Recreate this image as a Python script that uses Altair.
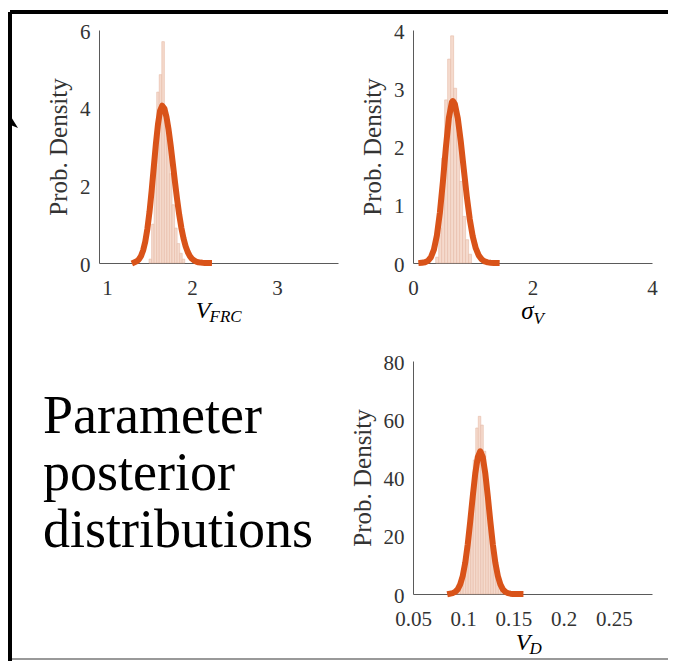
import altair as alt
import pandas as pd

# ---------------- data ----------------
# Panel 1: V_FRC
vfrc_edges = [1.495, 1.525, 1.555, 1.585, 1.615, 1.645, 1.675, 1.705, 1.735,
              1.765, 1.795, 1.825, 1.855, 1.885, 1.915]
vfrc_heights = [0.1, 1.0, 3.0, 4.4, 4.85, 5.7, 4.0, 3.2, 2.3, 1.5, 0.9, 0.5, 0.25, 0.1]
vfrc_cx = [1.325, 1.35, 1.375, 1.40, 1.425, 1.45, 1.475, 1.50, 1.525, 1.55, 1.575,
           1.60, 1.625, 1.65, 1.675, 1.70, 1.725, 1.75, 1.775, 1.80, 1.825, 1.85,
           1.875, 1.90, 1.925, 1.95, 1.975, 2.00, 2.025, 2.05, 2.075, 2.10, 2.125,
           2.15, 2.175, 2.20]
vfrc_cy = [0.021, 0.045, 0.092, 0.178, 0.322, 0.548, 0.876, 1.315, 1.854, 2.456, 3.057,
           3.574, 3.925, 4.05, 3.976, 3.761, 3.429, 3.013, 2.551, 2.081, 1.637, 1.240,
           0.906, 0.637, 0.432, 0.283, 0.178, 0.108, 0.063, 0.036, 0.019, 0.010, 0.005,
           0.002, 0.001, 0.0]

# Panel 2: sigma_V
sigv_edges = [0.38, 0.43, 0.48, 0.53, 0.58, 0.63, 0.68, 0.73, 0.78, 0.83, 0.88, 0.93, 0.98]
sigv_heights = [0.1, 0.6, 1.8, 2.8, 3.5, 3.9, 3.0, 2.2, 1.4, 0.8, 0.4, 0.15]
sigv_cx = [0.14, 0.15, 0.20, 0.25, 0.30, 0.35, 0.40, 0.45, 0.50, 0.55, 0.60, 0.65, 0.667,
           0.70, 0.75, 0.80, 0.85, 0.90, 0.95, 1.00, 1.05, 1.10, 1.15, 1.20, 1.25, 1.30,
           1.35, 1.40]
sigv_cy = [0.003, 0.004, 0.012, 0.037, 0.099, 0.230, 0.475, 0.865, 1.392, 1.980, 2.487,
           2.760, 2.78, 2.731, 2.484, 2.083, 1.609, 1.146, 0.752, 0.455, 0.254, 0.130,
           0.062, 0.027, 0.011, 0.004, 0.001, 0.0]

# Panel 3: V_D
vd_edges = [0.0925, 0.095, 0.0975, 0.1, 0.1025, 0.105, 0.1075, 0.11, 0.1125, 0.115,
            0.1175, 0.12, 0.1225, 0.125, 0.1275, 0.13, 0.1325, 0.135, 0.1375, 0.14, 0.1425]
vd_heights = [0.7, 2, 5, 10, 18, 24, 35, 46, 57, 61, 58, 49, 39, 28, 20, 12, 7, 3, 1.2, 0.4]
vd_cx = [0.087, 0.0895, 0.092, 0.0945, 0.097, 0.0995, 0.102, 0.1045, 0.107, 0.1095,
         0.112, 0.1145, 0.117, 0.1195, 0.122, 0.1245, 0.127, 0.1295, 0.132, 0.1345,
         0.137, 0.1395, 0.142, 0.1445, 0.147, 0.1495, 0.152, 0.1545, 0.157]
vd_cy = [0.112, 0.295, 0.716, 1.60, 3.28, 6.18, 10.71, 17.04, 24.93, 33.50, 41.38, 46.97,
         49.0, 46.97, 41.38, 33.50, 24.93, 17.04, 10.71, 6.18, 3.28, 1.60, 0.716, 0.295,
         0.112, 0.039, 0.012, 0.004, 0.001]

panel_title_text = "Parameter\nposterior\ndistributions"
y_title = "Prob. Density"

# ---------------- style ----------------
W, H = 239, 233
FONT = "Liberation Serif"
LINE_COLOR = "#D95319"
BAR_FILL = "#F5DACD"
BAR_STROKE = "#E6BBA6"
AX_COLOR = "#5a5a5a"
LABEL_COLOR = "#333333"
LABEL_SIZE = 21

one = pd.DataFrame({"a": [0]})


def x_enc(field, dom, ticks):
    return alt.X(field, type="quantitative",
                 scale=alt.Scale(domain=dom, nice=False, zero=False),
                 axis=alt.Axis(values=ticks, title=None, grid=False, ticks=False,
                               labelFont=FONT, labelFontSize=LABEL_SIZE,
                               labelColor=LABEL_COLOR,
                               labelPadding=14, labelFlush=False, labelOverlap=False,
                               domainColor=AX_COLOR, domainWidth=1, format="~g"))


def y_enc(field, dom, ticks):
    return alt.Y(field, type="quantitative",
                 scale=alt.Scale(domain=dom, nice=False, zero=True),
                 axis=alt.Axis(values=ticks, title=y_title, grid=False, ticks=False,
                               labelFont=FONT, labelFontSize=LABEL_SIZE,
                               labelColor=LABEL_COLOR, labelOffset=2,
                               labelPadding=9, labelOverlap=False, labelFlush=False,
                               titleFont=FONT, titleFontSize=25, titleFontWeight="normal",
                               titleColor=LABEL_COLOR, titlePadding=8,
                               domainColor=AX_COLOR, domainWidth=1))


def txt(s, x, y, size, italic=True, align="left", color="black"):
    kw = dict(font=FONT, fontSize=size, align=align, baseline="alphabetic", color=color)
    if italic:
        kw["fontStyle"] = "italic"
    return alt.Chart(one).mark_text(**kw).encode(
        x=alt.value(x), y=alt.value(y), text=alt.value(s))


def panel(edges, heights, cx, cy, xdom, xticks, ydom, yticks, extra):
    bars_df = pd.DataFrame({"x0": edges[:-1], "x1": edges[1:], "h": heights,
                            "b": [0] * len(heights)})
    curve_df = pd.DataFrame({"cx": cx, "cy": cy})
    bars = alt.Chart(bars_df).mark_bar(fill=BAR_FILL, stroke=BAR_STROKE, strokeWidth=0.6,
                                       fillOpacity=1).encode(
        x=x_enc("x0", xdom, xticks), x2="x1",
        y=y_enc("h", ydom, yticks), y2="b")
    line = alt.Chart(curve_df).mark_line(color=LINE_COLOR, strokeWidth=6,
                                         strokeJoin="round", strokeCap="square").encode(
        x=x_enc("cx", xdom, xticks), y=y_enc("cy", ydom, yticks))
    return alt.layer(bars, line, *extra).properties(width=W, height=H)


# decorations living in panel 1 coordinates (plot origin at its top-left)
top_border = alt.Chart(one).mark_rule(color="black", strokeWidth=4).encode(
    x=alt.value(-89), x2=alt.value(569), y=alt.value(-18))
left_border = alt.Chart(one).mark_rule(color="black", strokeWidth=4).encode(
    x=alt.value(-89), y=alt.value(-18), y2=alt.value(631))
bottom_line = alt.Chart(one).mark_rule(color="#777777", strokeWidth=1.5).encode(
    x=alt.value(-87), x2=alt.value(569), y=alt.value(629))
arrow = alt.Chart(one).mark_point(shape="M-0.5,-1L0.75,1L-0.5,0.5Z", filled=True,
                                  color="black", opacity=1, size=256).encode(
    x=alt.value(-87), y=alt.value(90))
big_text = alt.Chart(one).mark_text(font=FONT, fontSize=54, align="left",
                                    baseline="alphabetic", color="black",
                                    lineBreak="\n", lineHeight=57).encode(
    x=alt.value(-56), y=alt.value(403), text=alt.value(panel_title_text))

p1 = panel(vfrc_edges, vfrc_heights, vfrc_cx, vfrc_cy, [0.906, 3.718], [1, 2, 3],
           [0, 6], [0, 2, 4, 6],
           [txt("V", W / 2 - 8, 288, 24, align="right"),
            txt("FRC", W / 2 - 9, 292, 17),
            top_border, left_border, bottom_line, arrow, big_text])

p2 = panel(sigv_edges, sigv_heights, sigv_cx, sigv_cy, [0, 4], [0, 2, 4],
           [0, 4], [0, 1, 2, 3, 4],
           [txt("σ", W / 2 + 1, 289, 25, align="right"),
            txt("V", W / 2 + 1, 294, 17)])

p3 = panel(vd_edges, vd_heights, vd_cx, vd_cy, [0.05, 0.288],
           [0.05, 0.1, 0.15, 0.2, 0.25],
           [0, 80], [0, 20, 40, 60, 80],
           [txt("V", W / 2 - 2, 289, 24, align="right"),
            txt("D", W / 2 - 3, 293, 17)])

col2 = alt.VConcatChart(vconcat=[p2, p3], spacing=98, bounds="flush")
chart = alt.HConcatChart(hconcat=[p1, col2], spacing=75, bounds="flush").properties(
    padding={"left": 0, "top": 2, "right": 0, "bottom": 0},
    background="white",
).configure_view(stroke=None).configure_axis(
    labelFont=FONT, labelFontSize=LABEL_SIZE, labelColor=LABEL_COLOR,
    titleFont=FONT, titleFontSize=25, titleFontWeight="normal", titleColor=LABEL_COLOR,
    domainColor=AX_COLOR, grid=False, ticks=False)

chart.save("out.html", embed_options={"renderer": "svg", "actions": False})
